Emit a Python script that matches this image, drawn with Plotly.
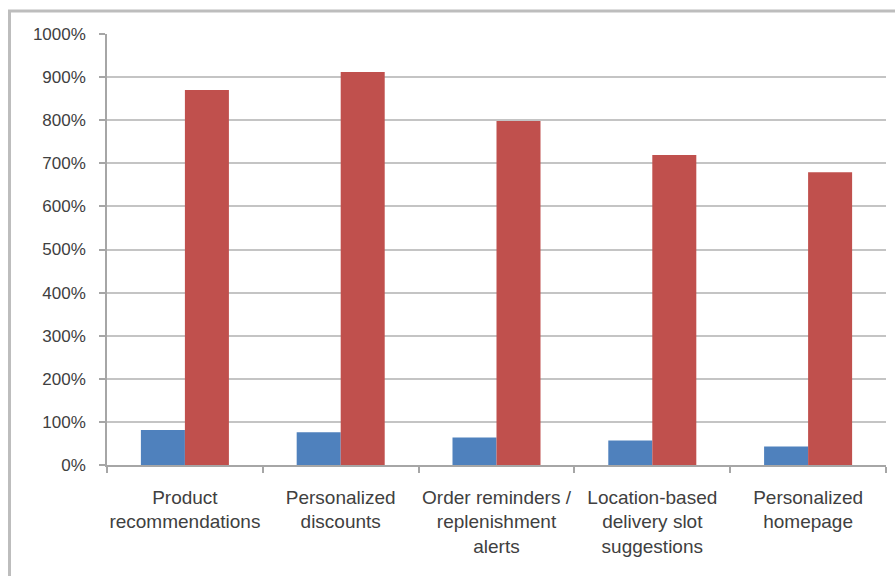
import plotly.graph_objects as go

categories = [
    "Product<br>recommendations",
    "Personalized<br>discounts",
    "Order reminders /<br>replenishment<br>alerts",
    "Location-based<br>delivery slot<br>suggestions",
    "Personalized<br>homepage",
]
series_blue = [81, 76, 64, 57, 43]
series_red = [870, 912, 798, 719, 679]
y_ticks = list(range(0, 1001, 100))
y_tick_labels = [f"{v}%" for v in y_ticks]

W, H = 895, 576
L, R, T, B = 107, 9, 34, 111
pw, ph = W - L - R, H - T - B

def px_x(x):
    return (x - L) / pw

def px_y(y):
    return (H - B - y) / ph

font_family = "Liberation Sans, Arial, sans-serif"
text_color = "#404040"
axis_color = "#a6a6a6"
grid_color = "#c4c4c4"

fig = go.Figure()
fig.add_trace(go.Bar(x=categories, y=series_blue, name="Series 1",
                     marker=dict(color="#4F81BD", line=dict(width=0))))
fig.add_trace(go.Bar(x=categories, y=series_red, name="Series 2",
                     marker=dict(color="#C0504D", line=dict(width=0))))

fig.update_layout(
    width=W, height=H,
    margin=dict(l=L, r=R, t=T, b=B, autoexpand=False),
    paper_bgcolor="white", plot_bgcolor="white",
    barmode="group", bargap=0.435, bargroupgap=0,
    showlegend=False,
    font=dict(family=font_family, size=19, color=text_color),
    xaxis=dict(
        type="category",
        showgrid=False,
        showline=True, linecolor=axis_color, linewidth=1.5,
        ticks="outside", tickson="boundaries", ticklen=6,
        tickcolor=axis_color, tickwidth=1.5,
        tickfont=dict(size=19, color=text_color),
        ticklabelstandoff=14,
        tickangle=0,
    ),
    yaxis=dict(
        range=[0, 1000],
        tickmode="array", tickvals=y_ticks, ticktext=y_tick_labels,
        showgrid=True, gridcolor=grid_color, gridwidth=1.5,
        showline=True, linecolor=axis_color, linewidth=1.5,
        ticks="outside", ticklen=6, tickcolor=axis_color, tickwidth=1.5,
        tickfont=dict(size=17, color=text_color),
        ticklabelstandoff=10,
        zeroline=False,
    ),
)

# outer chart border (cropped on right and bottom)
fig.add_shape(type="line", xref="paper", yref="paper",
              x0=px_x(9.5), x1=px_x(9.5), y0=px_y(H + 10), y1=px_y(11),
              line=dict(color="#bdbdbd", width=3))
fig.add_shape(type="line", xref="paper", yref="paper",
              x0=px_x(8), x1=px_x(W + 10), y0=px_y(11), y1=px_y(11),
              line=dict(color="#bdbdbd", width=3))

fig.write_html("out.html")
